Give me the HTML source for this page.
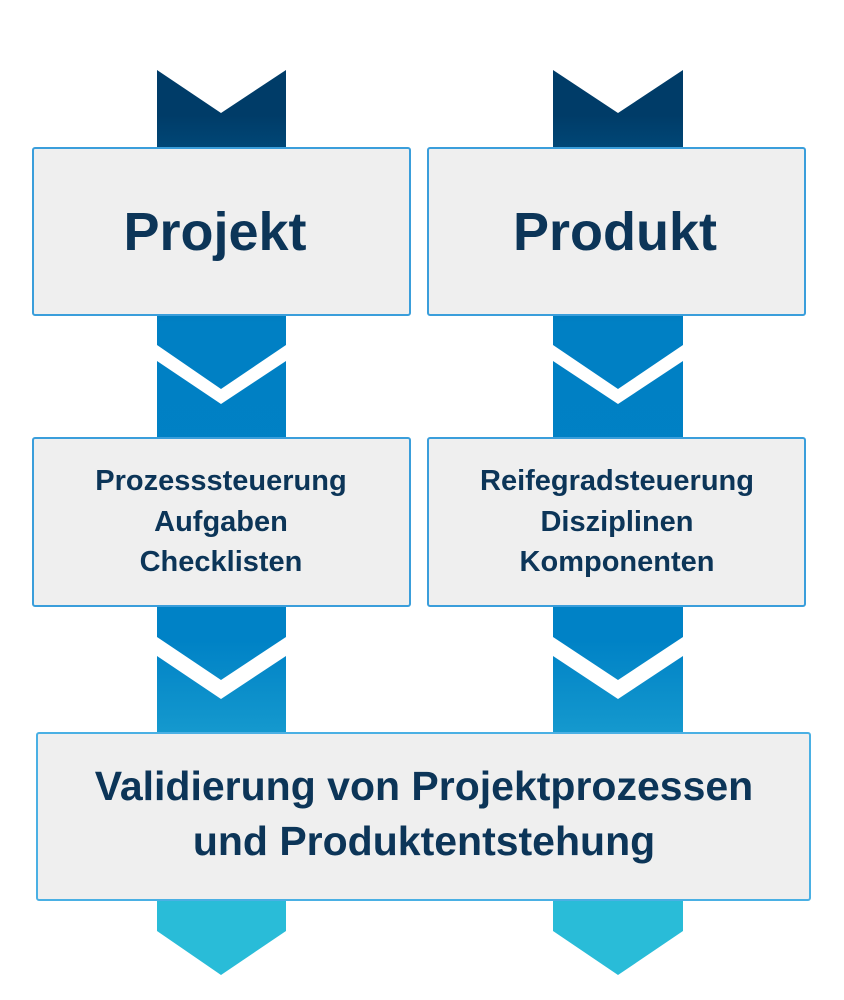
<!DOCTYPE html>
<html><head><meta charset="utf-8"><style>
html,body{margin:0;padding:0;background:#fff;}
svg{display:block;}
text{font-family:"Liberation Sans",sans-serif;font-weight:bold;fill:#0c3558;text-anchor:middle;}
</style></head><body>
<svg width="844" height="1000" viewBox="0 0 844 1000" xmlns="http://www.w3.org/2000/svg">
<defs>
<linearGradient id="g" x1="0" y1="70" x2="0" y2="975" gradientUnits="userSpaceOnUse">
<stop offset="0.05" stop-color="#003c68"/>
<stop offset="0.28" stop-color="#0080c4"/>
<stop offset="0.63" stop-color="#0082c6"/>
<stop offset="0.76" stop-color="#1a9fd0"/>
<stop offset="0.92" stop-color="#29bcd8"/>
</linearGradient>
</defs>
<g fill="url(#g)">
<polygon points="157,70 221,113 286,70 286,345 221,389 157,345"/>
<polygon points="157,361 221,404 286,361 286,637 221,680 157,637"/>
<polygon points="157,656 221,699 286,656 286,931 221,975 157,931"/>
<polygon points="553,70 618,113 683,70 683,345 618,389 553,345"/>
<polygon points="553,361 618,404 683,361 683,637 618,680 553,637"/>
<polygon points="553,656 618,699 683,656 683,931 618,975 553,931"/>
</g>
<g fill="#efefef" stroke="#3a9edb" stroke-width="2">
<rect x="33" y="148" width="377" height="167" rx="2"/>
<rect x="428" y="148" width="377" height="167" rx="2"/>
<rect x="33" y="438" width="377" height="168" rx="2"/>
<rect x="428" y="438" width="377" height="168" rx="2"/>
<rect x="37" y="733" width="773" height="167" rx="2" stroke="#4ab0e4"/>
</g>
<text x="215" y="250" font-size="54">Projekt</text>
<text x="615" y="250" font-size="54">Produkt</text>
<g font-size="29">
<text x="221" y="490">Prozesssteuerung</text>
<text x="221" y="531">Aufgaben</text>
<text x="221" y="571">Checklisten</text>
<text x="617" y="490">Reifegradsteuerung</text>
<text x="617" y="531">Disziplinen</text>
<text x="617" y="571">Komponenten</text>
</g>
<g font-size="41">
<text x="424" y="800">Validierung von Projektprozessen</text>
<text x="424" y="855">und Produktentstehung</text>
</g>
</svg>
</body></html>
